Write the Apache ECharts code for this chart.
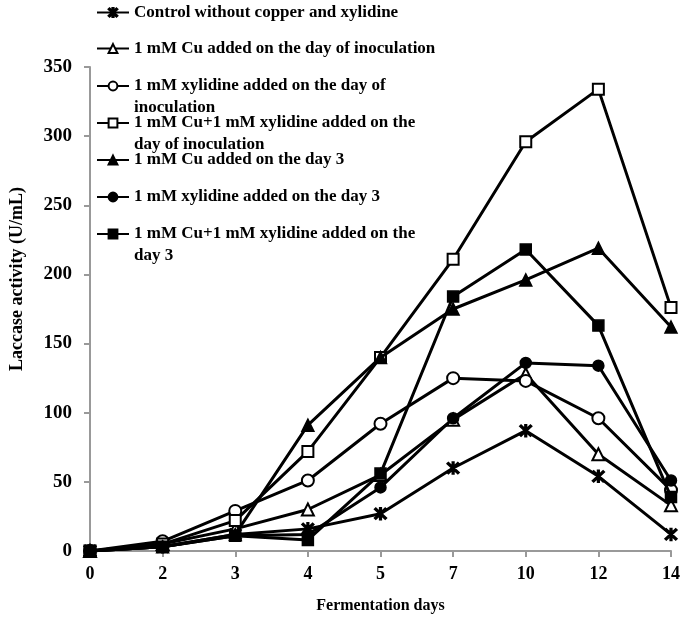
<!DOCTYPE html>
<html><head><meta charset="utf-8">
<script src="https://cdn.jsdelivr.net/npm/echarts@6/dist/echarts.min.js"></script>
<style>html,body{margin:0;padding:0;background:#fff}#c{width:685px;height:621px}</style>
</head><body><div id="c"></div>
<script>
var days = ['0','2','3','4','5','7','10','12','14'];
var seriesNames = [
  'Control without copper and xylidine',
  '1 mM Cu added on the day of inoculation',
  '1 mM xylidine added on the day of\ninoculation',
  '1 mM Cu+1 mM xylidine added on the\nday of inoculation',
  '1 mM Cu added on the day 3',
  '1 mM xylidine added on the day 3',
  '1 mM Cu+1 mM xylidine added on the\nday 3'
];
var control      = [0, 3, 12, 16, 27, 60, 87, 54, 12];
var cuInoc       = [0, 5, 16, 30, 55, 95, 128, 70, 33];
var xylInoc      = [0, 7, 29, 51, 92, 125, 123, 96, 44];
var cuXylInoc    = [0, 5, 22, 72, 140, 211, 296, 334, 176];
var cuDay3       = [0, 3, 12, 91, 140, 175, 196, 219, 162];
var xylDay3      = [0, 3, 11, 12, 46, 96, 136, 134, 51];
var cuXylDay3    = [0, 3, 11, 8, 56, 184, 218, 163, 39];
var yTicks = [0, 50, 100, 150, 200, 250, 300, 350];

var asterisk = 'path://M5.2 0L6.8 0L6.8 12L5.2 12Z M0.4 1.6L1.6 0.4L11.6 10.4L10.4 11.6Z M10.4 0.4L11.6 1.6L1.6 11.6L0.4 10.4Z';
var symbols = [asterisk, 'emptyTriangle', 'emptyCircle', 'emptyRect', 'triangle', 'circle', 'rect'];
var sizes = [12, 12, 12, 11, 12, 11, 11];
var dataSets = [control, cuInoc, xylInoc, cuXylInoc, cuDay3, xylDay3, cuXylDay3];

var font = 'Liberation Serif';
var series = dataSets.map(function(d, i){
  return {
    name: seriesNames[i], type: 'line', data: d,
    symbol: symbols[i], symbolSize: sizes[i], showAllSymbol: true,
    lineStyle: {color: '#000', width: 3},
    itemStyle: {color: '#000', borderColor: '#000', borderWidth: 1.5},
    emphasis: {disabled: true}, animation: false, z: 2 + i
  };
});

var legendCenters = [12.5, 48.5, 86, 123, 160, 197, 234];
var legends = seriesNames.map(function(n, i){
  var two = n.indexOf('\n') >= 0;
  return {
    data: [n], left: 96, top: legendCenters[i] - (two ? 33 : 11),
    itemWidth: 32, itemHeight: 11, itemGap: 0, padding: 0,
    selectedMode: false,
    formatter: function(name){ return two ? ' \n' + name : name; },
    textStyle: {fontFamily: font, fontWeight: 'bold', fontSize: 17, color: '#000', lineHeight: 22}
  };
});

var chart = echarts.init(document.getElementById('c'));
chart.setOption({
  backgroundColor: '#fff',
  animation: false,
  legend: legends,
  grid: {left: 87, right: 14, top: 67, bottom: 70, containLabel: false},
  xAxis: {
    type: 'category', data: days, boundaryGap: false,
    name: 'Fermentation days', nameLocation: 'middle', nameGap: 47,
    nameTextStyle: {fontFamily: font, fontWeight: 'bold', fontSize: 16, color: '#000'},
    axisLine: {lineStyle: {color: '#999', width: 2}},
    axisTick: {show: true, alignWithLabel: true, length: 6, lineStyle: {color: '#999', width: 2}},
    axisLabel: {fontFamily: font, fontWeight: 'bold', fontSize: 18, color: '#000', margin: 14, interval: 0},
    splitLine: {show: false}
  },
  yAxis: {
    type: 'value', min: 0, max: 350, interval: 50,
    name: 'Laccase activity (U/mL)', nameLocation: 'middle', nameGap: 64, nameRotate: 90,
    nameTextStyle: {fontFamily: font, fontWeight: 'bold', fontSize: 18, color: '#000', padding: [0, 0, 0, 60]},
    axisLine: {show: true, lineStyle: {color: '#999', width: 2}},
    axisTick: {show: true, length: 6, lineStyle: {color: '#999', width: 2}},
    axisLabel: {fontFamily: font, fontWeight: 'bold', fontSize: 19, color: '#000', margin: 18,
      formatter: function(v){ return yTicks.indexOf(v) >= 0 ? String(v) : ''; }},
    splitLine: {show: false}
  },
  series: series
});
</script></body></html>
